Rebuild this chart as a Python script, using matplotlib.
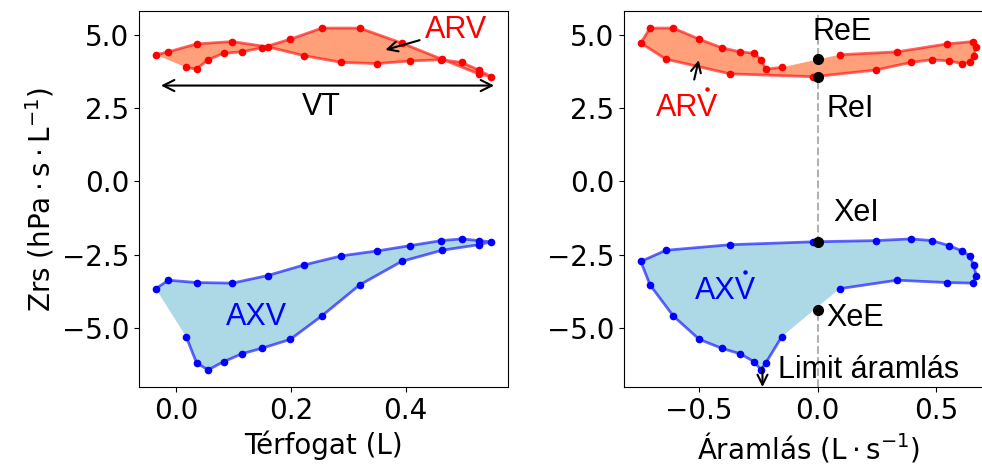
import numpy as np
import matplotlib.pyplot as plt
from matplotlib.lines import Line2D
from matplotlib.transforms import offset_copy

# one breath, sampled at the oscillation frequency (inspiration then expiration)
volume = [0.018, 0.036, 0.056, 0.083, 0.115, 0.150, 0.199, 0.254, 0.320, 0.393, 0.463, 0.527, 0.549,
          0.527, 0.498, 0.462, 0.408, 0.351, 0.288, 0.223, 0.160, 0.098, 0.036, -0.013, -0.035]
flow = [-0.152, -0.219, -0.239, -0.268, -0.327, -0.405, -0.499, -0.609, -0.707, -0.746, -0.640, -0.370, -0.018,
        0.245, 0.393, 0.481, 0.554, 0.608, 0.640, 0.657, 0.668, 0.654, 0.545, 0.334, 0.092]
rrs = [3.89, 3.83, 4.15, 4.37, 4.42, 4.56, 4.85, 5.23, 5.23, 4.72, 4.17, 3.67, 3.57,
       3.80, 4.06, 4.15, 4.11, 4.02, 4.06, 4.29, 4.59, 4.77, 4.69, 4.42, 4.32]
xrs = [-5.30, -6.19, -6.43, -6.15, -5.88, -5.69, -5.39, -4.59, -3.53, -2.73, -2.35, -2.16, -2.06,
       -2.02, -1.96, -2.02, -2.19, -2.37, -2.54, -2.85, -3.21, -3.47, -3.45, -3.37, -3.66]

# values at zero flow
re_e, re_i = 4.17, 3.57
xe_i, xe_e = -2.07, -4.37
flow_limit = -0.233

vt_range = (-0.026, 0.554)
zrs_ticks = [-5.0, -2.5, 0.0, 2.5, 5.0]

plt.rcParams['font.size'] = 20
plt.rcParams['xtick.major.pad'] = 4
ann = dict(family='Liberation Sans', fontsize=22)

fig = plt.figure(figsize=(9.82, 4.66), dpi=100)
ax1 = fig.add_axes([139 / 982, 79 / 466, 369 / 982, 376 / 466])
ax2 = fig.add_axes([624 / 982, 79 / 466, 369 / 982, 376 / 466], sharey=ax1)


def loop(ax, x, y, fill_color, line_color):
    ax.fill(x, y, color=fill_color, lw=0)
    ax.plot(x, y, color=line_color, alpha=0.6, lw=2)
    ax.plot(x, y, 'o', color=line_color, ms=4.5)


def dot_over_last(ax, x, y, color, dx=14.0, dy=13.8):
    # time-derivative dot above the final letter of a centred label
    tr = offset_copy(ax.transData, fig=fig, x=dx, y=dy, units='points')
    ax.add_artist(Line2D([x], [y], marker='o', ms=2.2, color=color, transform=tr))


# Zrs vs volume
loop(ax1, volume, rrs, 'lightsalmon', 'red')
loop(ax1, volume, xrs, 'lightblue', 'blue')
ax1.annotate('ARV', xy=(0.36, 4.46), xytext=(0.488, 5.17), color='red', ha='center', va='center',
             arrowprops=dict(arrowstyle='->', color='black', lw=1.5, mutation_scale=18), **ann)
ax1.annotate('', xy=(vt_range[0], 3.27), xytext=(vt_range[1], 3.27),
             arrowprops=dict(arrowstyle='<->', color='black', lw=1.5, mutation_scale=20,
                             shrinkA=0, shrinkB=0))
ax1.text(0.253, 2.53, 'VT', ha='center', va='center', **ann)
ax1.text(0.14, -4.61, 'AXV', color='blue', ha='center', va='center', **ann)
ax1.set_xlabel('Térfogat (L)')
ax1.set_ylabel(r'Zrs ($\mathregular{hPa \cdot s \cdot L^{-1}}$)')
ax1.set_xticks([0.0, 0.2, 0.4])
ax1.set_yticks(zrs_ticks)

# Zrs vs flow
ax2.axvline(0, color='gray', ls='--', lw=1.5, alpha=0.6, zorder=0)
loop(ax2, flow, rrs, 'lightsalmon', 'red')
loop(ax2, flow, xrs, 'lightblue', 'blue')
ax2.plot([0, 0, 0, 0], [re_e, re_i, xe_i, xe_e], 'o', color='black', ms=7, zorder=5)
ax2.text(0.103, 5.10, 'ReE', ha='center', va='center', **ann)
ax2.text(0.137, 2.48, 'ReI', ha='center', va='center', **ann)
ax2.text(0.162, -1.09, 'XeI', ha='center', va='center', **ann)
ax2.text(0.158, -4.66, 'XeE', ha='center', va='center', **ann)
ax2.annotate('ARV', xy=(-0.499, 4.23), xytext=(-0.549, 2.5), color='red', ha='center', va='center',
             arrowprops=dict(arrowstyle='->', color='black', lw=1.5, mutation_scale=18, shrinkA=8), **ann)
dot_over_last(ax2, -0.549, 2.5, 'red', dx=14.3)
ax2.text(-0.387, -3.74, 'AXV', color='blue', ha='center', va='center', **ann)
dot_over_last(ax2, -0.387, -3.74, 'blue', dx=14.0)
ax2.annotate('', xy=(flow_limit, 0), xycoords=('data', 'axes fraction'),
             xytext=(flow_limit, -6.35), textcoords='data',
             arrowprops=dict(arrowstyle='->', color='black', lw=1.5, mutation_scale=18,
                             shrinkA=0, shrinkB=0))
ax2.text(-0.167, -6.43, 'Limit áramlás', ha='left', va='center', **ann)
ax2.set_xlabel(r'Áramlás ($\mathregular{L \cdot s^{-1}}$)')
ax2.set_xticks([-0.5, 0.0, 0.5])

fig.savefig('out.png', dpi=100)
